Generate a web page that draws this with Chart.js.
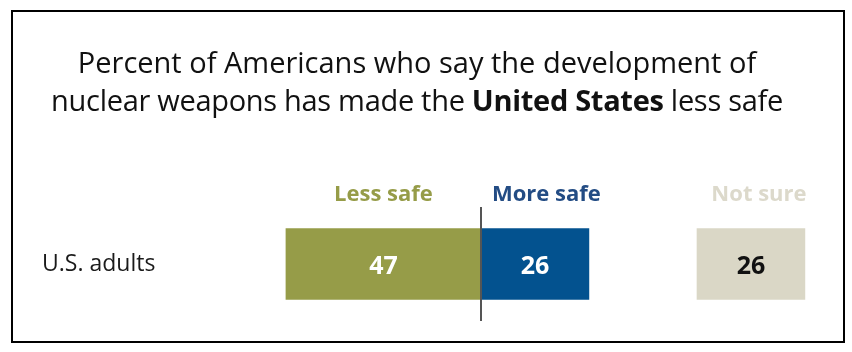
<!DOCTYPE html>
<html>
<head>
<meta charset="utf-8">
<script src="https://cdn.jsdelivr.net/npm/chart.js@4/dist/chart.umd.min.js"></script>
<style>
  html, body { margin: 0; padding: 0; background: #fff; }
  #wrap { position: relative; width: 852px; height: 352px; overflow: hidden; }
  #frame { position: absolute; left: 11px; top: 10px; width: 834px; height: 333px; box-sizing: border-box; border: 2.5px solid #000; pointer-events: none; }
  #title { position: absolute; left: 0; top: 43px; width: 834px; text-align: center; font-family: "Open Sans", sans-serif; font-size: 29px; line-height: 38px; color: #111; }
  #title b { font-weight: 700; }
  #title .l2 { letter-spacing: -0.3px; }
  canvas { position: absolute; left: 0; top: 0; }
</style>
</head>
<body>
<div id="wrap">
  <canvas id="c" width="852" height="352"></canvas>
  <div id="title">Percent of Americans who say the development of<br><span class="l2">nuclear weapons has made the <b>United States</b> less safe</span></div>
  <div id="frame"></div>
</div>
<script>
// ---- data ----
const categories = ["U.S. adults"];
const seriesNames = ["Less safe", "More safe", "Not sure"];
const lessSafe = [47];
const moreSafe = [26];
const notSure = [26];

// ---- styling / layout ----
const COLORS = { less: "#969C48", more: "#03528F", unsure: "#DAD7C6" };
const HEADER_COLORS = { less: "#969C48", more: "#234C84", unsure: "#DCD9CB" };
const FONT = '"Open Sans", sans-serif';
const AREA_LEFT = 222, AREA_RIGHT = 832;   // plot area pixel bounds
const ZERO_PX = 481;                        // where the diverging axis zero sits
const UNSURE_ZERO_PX = 697;                 // where the "Not sure" axis zero sits
const PX_PER_UNIT = 4.15;

function rangeFor(zeroPx) {
  return { min: -(zeroPx - AREA_LEFT) / PX_PER_UNIT, max: (AREA_RIGHT - zeroPx) / PX_PER_UNIT };
}
const r1 = rangeFor(ZERO_PX), r2 = rangeFor(UNSURE_ZERO_PX);

const overlay = {
  id: "overlay",
  afterDatasetsDraw(chart) {
    const { ctx, chartArea } = chart;
    const xs = chart.scales.x;
    const zero = xs.getPixelForValue(0);
    ctx.save();
    // divider line
    ctx.strokeStyle = "#555";
    ctx.lineWidth = 2;
    ctx.beginPath();
    ctx.moveTo(zero, chartArea.top);
    ctx.lineTo(zero, chartArea.bottom);
    ctx.stroke();

    // value labels
    const labelColors = ["#ffffff", "#ffffff", "#111111"];
    const values = [lessSafe, moreSafe, notSure];
    chart.data.datasets.forEach((ds, di) => {
      const meta = chart.getDatasetMeta(di);
      meta.data.forEach((bar, i) => {
        const cx = (bar.x + bar.base) / 2;
        ctx.font = "700 25px " + FONT;
        ctx.fillStyle = labelColors[di];
        ctx.textAlign = "center";
        ctx.textBaseline = "alphabetic";
        ctx.fillText(String(values[di][i]), cx, bar.y + 10);
      });
    });

    // column headers
    const headY = chartArea.top - 6;
    ctx.font = "700 22px " + FONT;
    ctx.textBaseline = "alphabetic";
    const lessBar = chart.getDatasetMeta(0).data[0];
    ctx.fillStyle = HEADER_COLORS.less;
    ctx.textAlign = "center";
    ctx.fillText(seriesNames[0], (lessBar.x + lessBar.base) / 2, headY);
    ctx.fillStyle = HEADER_COLORS.more;
    ctx.textAlign = "left";
    ctx.fillText(seriesNames[1], zero + 11, headY);
    const nsBar = chart.getDatasetMeta(2).data[0];
    ctx.fillStyle = HEADER_COLORS.unsure;
    ctx.textAlign = "center";
    ctx.fillText(seriesNames[2], (nsBar.x + nsBar.base) / 2 + 8, headY);
    ctx.restore();
  }
};

new Chart(document.getElementById("c"), {
  type: "bar",
  data: {
    labels: categories,
    datasets: [
      { label: seriesNames[0], data: lessSafe.map(v => -v), backgroundColor: COLORS.less, xAxisID: "x", grouped: false, barThickness: 71 },
      { label: seriesNames[1], data: moreSafe, backgroundColor: COLORS.more, xAxisID: "x", grouped: false, barThickness: 71 },
      { label: seriesNames[2], data: notSure, backgroundColor: COLORS.unsure, xAxisID: "x2", grouped: false, barThickness: 71 }
    ]
  },
  options: {
    indexAxis: "y",
    responsive: false,
    animation: false,
    devicePixelRatio: 1,
    layout: { padding: { left: 42, right: 852 - AREA_RIGHT, top: 207, bottom: 31 } },
    plugins: { legend: { display: false }, title: { display: false }, tooltip: { enabled: false } },
    scales: {
      x: { type: "linear", display: false, min: r1.min, max: r1.max },
      x2: { type: "linear", display: false, min: r2.min, max: r2.max },
      y: {
        type: "category",
        grid: { display: false },
        border: { display: false },
        ticks: { crossAlign: "far", color: "#1a1a1a", font: { family: FONT, size: 23 }, padding: 0 },
        afterFit(scale) { scale.width = AREA_LEFT - 42; }
      }
    }
  },
  plugins: [overlay]
});
</script>
</body>
</html>
